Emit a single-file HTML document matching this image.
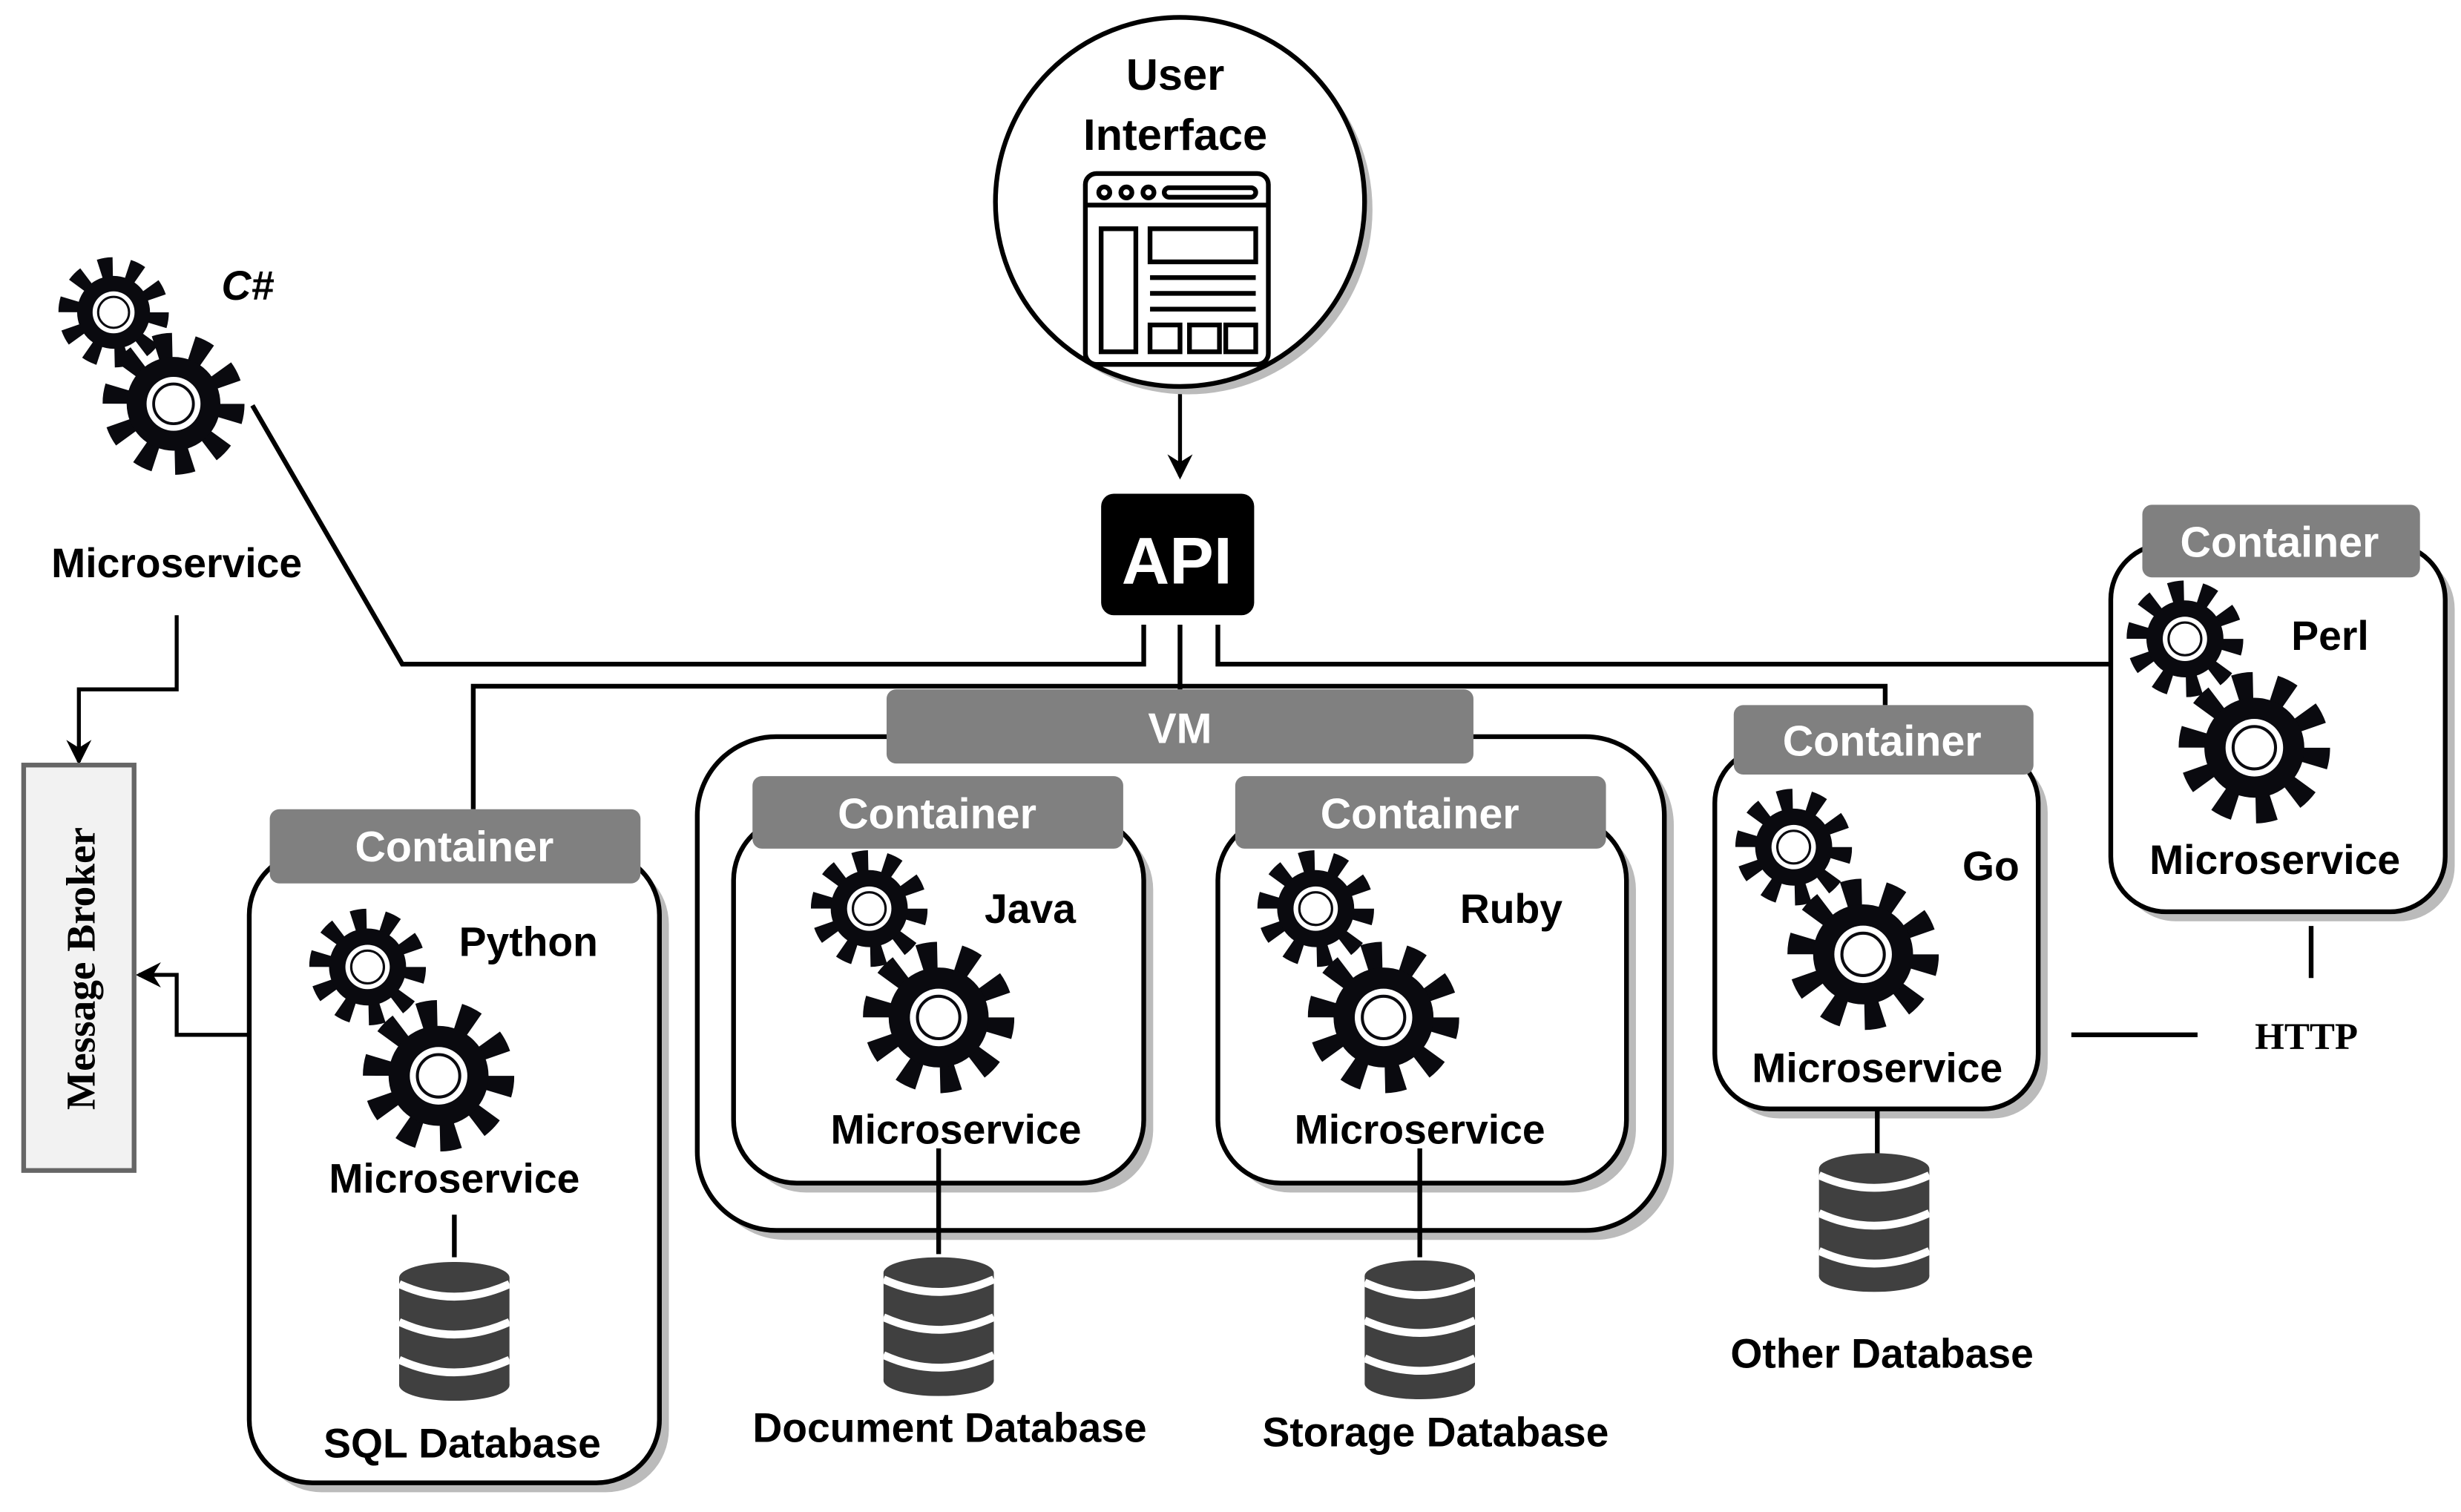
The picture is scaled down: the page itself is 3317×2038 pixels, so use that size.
<!DOCTYPE html>
<html><head><meta charset="utf-8"><style>
html,body{margin:0;padding:0;background:#fff;}
svg{display:block;}
text{font-family:"Comic Sans MS","Liberation Sans",sans-serif;font-weight:bold;}
.s{font-family:"Liberation Serif",serif;font-weight:bold;}
</style></head><body>
<svg width="3317" height="2038" viewBox="0 0 1560 958.5" preserveAspectRatio="none" xmlns="http://www.w3.org/2000/svg">
<defs>
<symbol id="g" viewBox="-50 -50 100 100">
<circle r="38" fill="none" stroke="#0a0a0f" stroke-width="24" stroke-dasharray="11 12.88"/>
<circle r="33" fill="#0a0a0f"/>
<circle r="19" fill="#fff"/>
<circle r="14" fill="#fff" stroke="#0a0a0f" stroke-width="2"/>
</symbol>
<symbol id="db" viewBox="0 0 70 88">
<rect x="0" y="10" width="70" height="68" fill="#404040"/>
<ellipse cx="35" cy="10" rx="35" ry="10" fill="#404040"/>
<ellipse cx="35" cy="78" rx="35" ry="10" fill="#404040"/>
<path d="M0 14 Q35 30 70 14 M0 38 Q35 54 70 38 M0 62 Q35 78 70 62" stroke="#fff" stroke-width="5" fill="none"/>
</symbol>
<marker id="ar" markerWidth="16" markerHeight="16" refX="14" refY="8" orient="auto" markerUnits="userSpaceOnUse"><path d="M0 0 L16 8 L0 16 L5 8Z" fill="#000"/></marker>
</defs>
<g stroke="#000" stroke-width="3" fill="none">
<line x1="748" y1="233" x2="748" y2="302" marker-end="url(#ar)" stroke-width="2.5"/>
<polyline points="725,396 725,421 255,421 160,257"/>
<line x1="748" y1="396" x2="748" y2="438"/>
<polyline points="772,396 772,421 1358,421"/>
<polyline points="300,513 300,435 1195,435 1195,447"/>
<polyline points="112,390 112,437 50,437 50,483" marker-end="url(#ar)" stroke-width="2.5"/>
<polyline points="158,656 112,656 112,618 88,618" marker-end="url(#ar)" stroke-width="2.5"/>
<line x1="1313" y1="656" x2="1393" y2="656"/>
<line x1="1465" y1="587" x2="1465" y2="620"/>
</g>
<circle cx="753" cy="133" r="117" fill="#bbb"/>
<circle cx="748" cy="128" r="117" fill="#fff" stroke="#000" stroke-width="3"/>
<text x="745" y="57" font-size="28" text-anchor="middle">User</text>
<text x="745" y="95" font-size="28" text-anchor="middle">Interface</text>
<g fill="none" stroke="#000" stroke-width="3">
<rect x="688" y="110" width="116" height="121" rx="7"/>
<line x1="688" y1="130" x2="804" y2="130"/>
<circle cx="700" cy="122" r="3.5"/><circle cx="714" cy="122" r="3.5"/><circle cx="728" cy="122" r="3.5"/>
<rect x="738" y="119" width="58" height="6" rx="3"/>
<rect x="698" y="145" width="22" height="78"/>
<rect x="729" y="145" width="67" height="21"/>
<line x1="729" y1="176" x2="796" y2="176"/><line x1="729" y1="186" x2="796" y2="186"/><line x1="729" y1="196" x2="796" y2="196"/>
<rect x="729" y="206" width="19" height="17"/><rect x="754" y="206" width="19" height="17"/><rect x="777" y="206" width="19" height="17"/>
</g>
<rect x="698" y="313" width="97" height="77" rx="8" fill="#000"/>
<text x="746" y="370" font-size="42" fill="#fff" text-anchor="middle" style="font-family:'Liberation Sans',sans-serif;font-weight:900">API</text>
<use href="#g" x="37" y="163" width="70" height="70"/>
<use href="#g" x="65" y="211" width="90" height="90"/>
<text x="157" y="190" font-size="26" text-anchor="middle" font-style="italic">C#</text>
<text x="112" y="366" font-size="26" text-anchor="middle">Microservice</text>
<rect x="15" y="485" width="70" height="257" fill="#f2f2f2" stroke="#666" stroke-width="3"/>
<text class="s" x="0" y="0" font-size="26" text-anchor="middle" transform="translate(60,614) rotate(-90)">Message Broker</text>
<rect x="164" y="546" width="260" height="400" rx="40" fill="#bbb"/>
<rect x="158" y="540" width="260" height="400" rx="40" fill="#fff" stroke="#000" stroke-width="3"/>
<rect x="171" y="513" width="235" height="47" rx="6" fill="#808080"/>
<text x="288" y="546" font-size="27" fill="#fff" text-anchor="middle">Container</text>
<use href="#g" x="196" y="576" width="74" height="74"/>
<use href="#g" x="230" y="634" width="96" height="96"/>
<text x="335" y="606" font-size="26" text-anchor="middle">Python</text>
<text x="288" y="756" font-size="26" text-anchor="middle">Microservice</text>
<line x1="288" y1="770" x2="288" y2="797" stroke="#000" stroke-width="3"/>
<use href="#db" x="253" y="800" width="70" height="88"/>
<text x="293" y="924" font-size="26" text-anchor="middle">SQL Database</text>
<rect x="448" y="473" width="613" height="313" rx="50" fill="#bbb"/>
<rect x="442" y="467" width="613" height="313" rx="50" fill="#fff" stroke="#000" stroke-width="3"/>
<rect x="562" y="437" width="372" height="47" rx="6" fill="#808080"/>
<text x="748" y="471" font-size="27" fill="#fff" text-anchor="middle">VM</text>
<rect x="471" y="524" width="260" height="232" rx="40" fill="#bbb"/>
<rect x="465" y="518" width="260" height="232" rx="40" fill="#fff" stroke="#000" stroke-width="3"/>
<rect x="477" y="492" width="235" height="46" rx="6" fill="#808080"/>
<text x="594" y="525" font-size="27" fill="#fff" text-anchor="middle">Container</text>
<use href="#g" x="514" y="539" width="74" height="74"/>
<use href="#g" x="547" y="597" width="96" height="96"/>
<text x="653" y="585" font-size="26" text-anchor="middle">Java</text>
<text x="606" y="725" font-size="26" text-anchor="middle">Microservice</text>
<line x1="595" y1="728" x2="595" y2="795" stroke="#000" stroke-width="3"/>
<use href="#db" x="560" y="797" width="70" height="88"/>
<text x="602" y="914" font-size="26" text-anchor="middle">Document Database</text>
<rect x="778" y="524" width="259" height="232" rx="40" fill="#bbb"/>
<rect x="772" y="518" width="259" height="232" rx="40" fill="#fff" stroke="#000" stroke-width="3"/>
<rect x="783" y="492" width="235" height="46" rx="6" fill="#808080"/>
<text x="900" y="525" font-size="27" fill="#fff" text-anchor="middle">Container</text>
<use href="#g" x="797" y="539" width="74" height="74"/>
<use href="#g" x="829" y="597" width="96" height="96"/>
<text x="958" y="585" font-size="26" text-anchor="middle">Ruby</text>
<text x="900" y="725" font-size="26" text-anchor="middle">Microservice</text>
<line x1="900" y1="728" x2="900" y2="797" stroke="#000" stroke-width="3"/>
<use href="#db" x="865" y="799" width="70" height="88"/>
<text x="910" y="917" font-size="26" text-anchor="middle">Storage Database</text>
<rect x="1093" y="480" width="205" height="229" rx="35" fill="#bbb"/>
<rect x="1087" y="474" width="205" height="229" rx="35" fill="#fff" stroke="#000" stroke-width="3"/>
<rect x="1099" y="447" width="190" height="44" rx="6" fill="#808080"/>
<text x="1193" y="479" font-size="27" fill="#fff" text-anchor="middle">Container</text>
<use href="#g" x="1100" y="500" width="74" height="74"/>
<use href="#g" x="1133" y="557" width="96" height="96"/>
<text x="1262" y="558" font-size="26" text-anchor="middle">Go</text>
<text x="1190" y="686" font-size="26" text-anchor="middle">Microservice</text>
<line x1="1190" y1="703" x2="1190" y2="733" stroke="#000" stroke-width="3"/>
<use href="#db" x="1153" y="731" width="70" height="88"/>
<text x="1193" y="867" font-size="26" text-anchor="middle">Other Database</text>
<rect x="1344" y="351" width="212" height="233" rx="35" fill="#bbb"/>
<rect x="1338" y="345" width="212" height="233" rx="35" fill="#fff" stroke="#000" stroke-width="3"/>
<rect x="1358" y="320" width="176" height="46" rx="6" fill="#808080"/>
<text x="1445" y="353" font-size="27" fill="#fff" text-anchor="middle">Container</text>
<use href="#g" x="1348" y="368" width="74" height="74"/>
<use href="#g" x="1381" y="426" width="96" height="96"/>
<text x="1477" y="412" font-size="26" text-anchor="middle">Perl</text>
<text x="1442" y="554" font-size="26" text-anchor="middle">Microservice</text>
<text class="s" x="1462" y="665" font-size="24" text-anchor="middle">HTTP</text>
</svg>
</body></html>
